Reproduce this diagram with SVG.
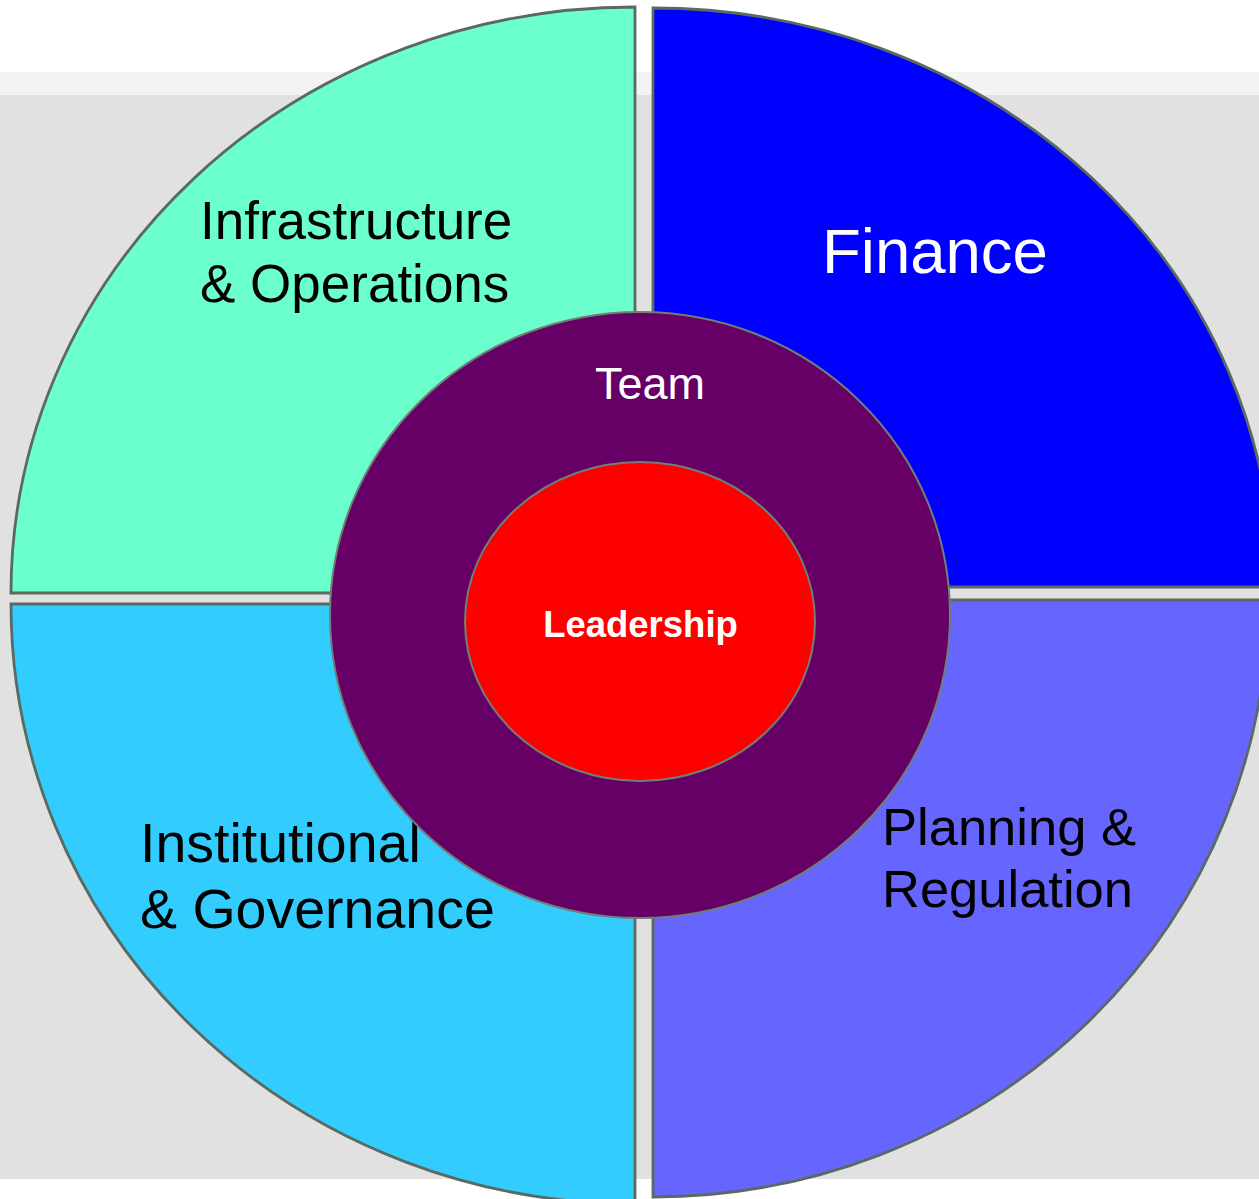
<svg xmlns="http://www.w3.org/2000/svg" width="1259" height="1199" viewBox="0 0 1259 1199">
  <style>
    .q { stroke: #5a6a60; stroke-width: 2.8; stroke-linejoin: miter; }
    .ring { stroke: #6f7f76; stroke-width: 2; }
    .lbl { font-family: "Liberation Sans", Arial, sans-serif; fill: #000; }
    .wlbl { font-family: "Liberation Sans", Arial, sans-serif; fill: #fff; }
  </style>
  <rect x="0" y="0" width="1259" height="1199" fill="#ffffff"/>
  <rect x="0" y="72" width="1259" height="23" fill="#f3f3f3"/>
  <rect x="0" y="95" width="1259" height="1084" fill="#e1e1e1"/>

  <g id="infrastructure">
    <path class="q" d="M635,593 L11,593 A624,586 0 0 1 635,7 Z" fill="#6affcc"/>
    <text class="lbl" x="200" y="239" font-size="53">Infrastructure</text>
    <text class="lbl" x="200" y="302" font-size="53">&amp; Operations</text>
  </g>
  <g id="finance">
    <path class="q" d="M653,587 L653,8 A620,579 0 0 1 1273,587 Z" fill="#0000ff"/>
    <text class="wlbl" x="822" y="273" font-size="63.5">Finance</text>
  </g>
  <g id="institutional">
    <path class="q" d="M635,604 L11,604 A624,600 0 0 0 635,1204 Z" fill="#33ccff"/>
    <text class="lbl" x="140" y="862" font-size="55.5">Institutional</text>
    <text class="lbl" x="140" y="928" font-size="55.5">&amp; Governance</text>
  </g>
  <g id="planning">
    <path class="q" d="M653,600 L1268,600 A615,597 0 0 1 653,1197 Z" fill="#6666ff"/>
    <text class="lbl" x="882" y="845" font-size="52.5">Planning &amp;</text>
    <text class="lbl" x="882" y="907" font-size="52.5">Regulation</text>
  </g>
  <g id="team">
    <ellipse class="ring" cx="640" cy="615" rx="310" ry="303" fill="#660066"/>
    <text class="wlbl" x="650" y="399" font-size="45" text-anchor="middle">Team</text>
  </g>
  <g id="leadership">
    <ellipse class="ring" cx="640" cy="621.5" rx="175" ry="159.5" fill="#ff0000"/>
    <text class="wlbl" x="640.5" y="637" font-size="36.5" font-weight="bold" text-anchor="middle">Leadership</text>
  </g>
  <g id="connectors"/>
</svg>
